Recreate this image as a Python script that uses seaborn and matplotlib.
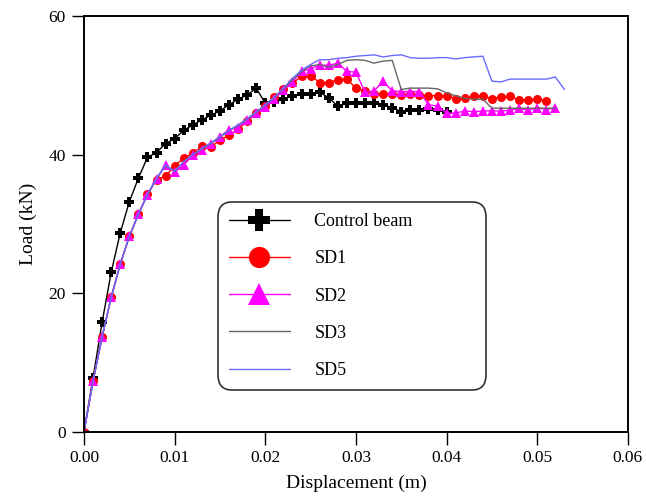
import pandas as pd
import matplotlib.pyplot as plt
import seaborn as sns

# displacement steps shared by all tests (m)
disp = [0.000, 0.001, 0.002, 0.003, 0.004, 0.005, 0.006, 0.007, 0.008, 0.009,
        0.010, 0.011, 0.012, 0.013, 0.014, 0.015, 0.016, 0.017, 0.018, 0.019,
        0.020, 0.021, 0.022, 0.023, 0.024, 0.025, 0.026, 0.027, 0.028, 0.029,
        0.030, 0.031, 0.032, 0.033, 0.034, 0.035, 0.036, 0.037, 0.038, 0.039,
        0.040, 0.041, 0.042, 0.043, 0.044, 0.045, 0.046, 0.047, 0.048, 0.049,
        0.050, 0.051, 0.052, 0.053]

control_load = [0, 7.8, 15.8, 23.0, 28.7, 33.2, 36.6, 39.6, 40.3, 41.6,
                42.3, 43.5, 44.3, 45.0, 45.7, 46.3, 47.2, 48.0, 48.6, 49.6,
                47.4, 47.6, 48.0, 48.5, 48.8, 48.7, 49.0, 48.2, 47.0, 47.4,
                47.4, 47.5, 47.4, 47.2, 46.8, 46.2, 46.4, 46.4, 46.6, 46.5,
                46.2]

sd1_load = [0, 7.4, 13.7, 19.4, 24.2, 28.2, 31.4, 34.3, 36.4, 36.9,
            38.4, 39.5, 40.2, 41.2, 41.1, 42.1, 42.8, 43.7, 44.8, 46.0,
            47.0, 48.3, 49.5, 50.3, 51.3, 51.4, 50.4, 50.4, 50.8, 50.9,
            49.6, 49.2, 48.7, 48.7, 48.7, 48.6, 48.7, 48.6, 48.5, 48.5,
            48.5, 48.1, 48.2, 48.4, 48.4, 48.1, 48.3, 48.4, 47.9, 47.9,
            48.0, 47.7]

sd2_load = [0, 7.3, 13.7, 19.4, 24.2, 28.2, 31.4, 34.2, 36.5, 38.5,
            37.5, 38.5, 40.0, 40.7, 41.6, 42.6, 43.6, 43.9, 45.0, 46.0,
            46.9, 48.0, 49.3, 50.5, 52.0, 52.4, 52.9, 52.9, 53.2, 52.0,
            51.9, 49.0, 49.2, 50.6, 49.2, 49.1, 49.1, 49.1, 47.2, 47.0,
            46.0, 46.0, 46.3, 46.2, 46.3, 46.3, 46.3, 46.4, 46.7, 46.4,
            46.8, 46.5, 46.8]

sd3_load = [0, 7.3, 13.7, 19.4, 24.2, 28.2, 31.4, 34.2, 36.5, 38.4,
            37.6, 39.0, 40.0, 40.8, 41.6, 42.5, 43.5, 44.2, 45.1, 46.1,
            47.1, 48.2, 49.5, 50.8, 52.0, 52.8, 53.0, 52.6, 53.0, 53.6,
            53.7, 53.6, 53.2, 53.5, 53.6, 49.4, 49.6, 49.6, 49.6, 49.5,
            48.9, 48.5, 48.1, 48.0, 48.0, 46.7, 46.7, 46.7, 46.7, 46.7,
            46.7, 46.7, 46.7]

sd5_load = [0, 7.3, 13.7, 19.4, 24.2, 28.2, 31.4, 34.3, 36.6, 38.5,
            37.6, 39.0, 40.0, 40.9, 41.7, 42.6, 43.5, 44.3, 45.2, 46.2,
            47.2, 48.3, 49.6, 51.0, 52.2, 53.0, 53.7, 53.7, 53.9, 54.0,
            54.2, 54.3, 54.4, 54.1, 54.3, 54.4, 54.0, 53.9, 53.9, 54.0,
            54.0, 53.8, 54.0, 54.1, 54.2, 50.6, 50.5, 50.9, 50.9, 50.9,
            50.9, 50.9, 51.2, 49.4]

series = [
    ("Control beam", control_load, "black", "P", 7),
    ("SD1", sd1_load, "#ff0000", "o", 6.5),
    ("SD2", sd2_load, "#ff00ff", "^", 6.5),
    ("SD3", sd3_load, "#666666", None, 0),
    ("SD5", sd5_load, "#6a6aff", None, 0),
]

sns.set_style("ticks")
plt.rcParams["font.family"] = ["Liberation Serif", "DejaVu Serif"]

fig = plt.figure(figsize=(6.46, 5.01), dpi=100)
ax = fig.add_axes([0.130, 0.138, 0.842, 0.830])

for name, load, color, marker, ms in series:
    df = pd.DataFrame({"disp": disp[:len(load)], "load": load})
    sns.lineplot(
        data = df,
        x = "disp",
        y = "load",
        ax = ax,
        color = color,
        marker = marker,
        markersize = ms,
        markeredgewidth = 0,
        linewidth = 1.0,
        sort = False,
        estimator = None,
        label = name
    )

ax.set_xlim(0, 0.06)
ax.set_ylim(0, 60)
ax.set_xticks([0.00, 0.01, 0.02, 0.03, 0.04, 0.05, 0.06])
ax.set_yticks([0, 20, 40, 60])
ax.xaxis.set_major_formatter(plt.FormatStrFormatter("%.2f"))
ax.set_xlabel("Displacement (m)", fontsize=14, color="black", labelpad=6)
ax.set_ylabel("Load (kN)", fontsize=14, color="black", labelpad=8)
ax.tick_params(direction="out", length=9, width=1, labelsize=12.5, colors="black", pad=4)
for sp in ax.spines.values():
    sp.set_visible(True)
    sp.set_linewidth(1.4)
    sp.set_color("black")

leg = ax.legend(
    loc = "lower left",
    bbox_to_anchor = (0.246, 0.101, 0.494, 0.45),
    mode = "expand",
    borderaxespad = 0,
    markerscale = 2.35,
    handlelength = 3.4,
    handletextpad = 1.35,
    labelspacing = 1.12,
    borderpad = 0.6,
    fontsize = 13,
    fancybox = True,
    frameon = True,
)
leg.get_frame().set_edgecolor("black")
leg.get_frame().set_linewidth(1.2)
leg.get_frame().set_boxstyle("round", pad=0, rounding_size=0.8)
for t in leg.get_texts():
    t.set_color("black")

fig.savefig("out.png", dpi=100)
